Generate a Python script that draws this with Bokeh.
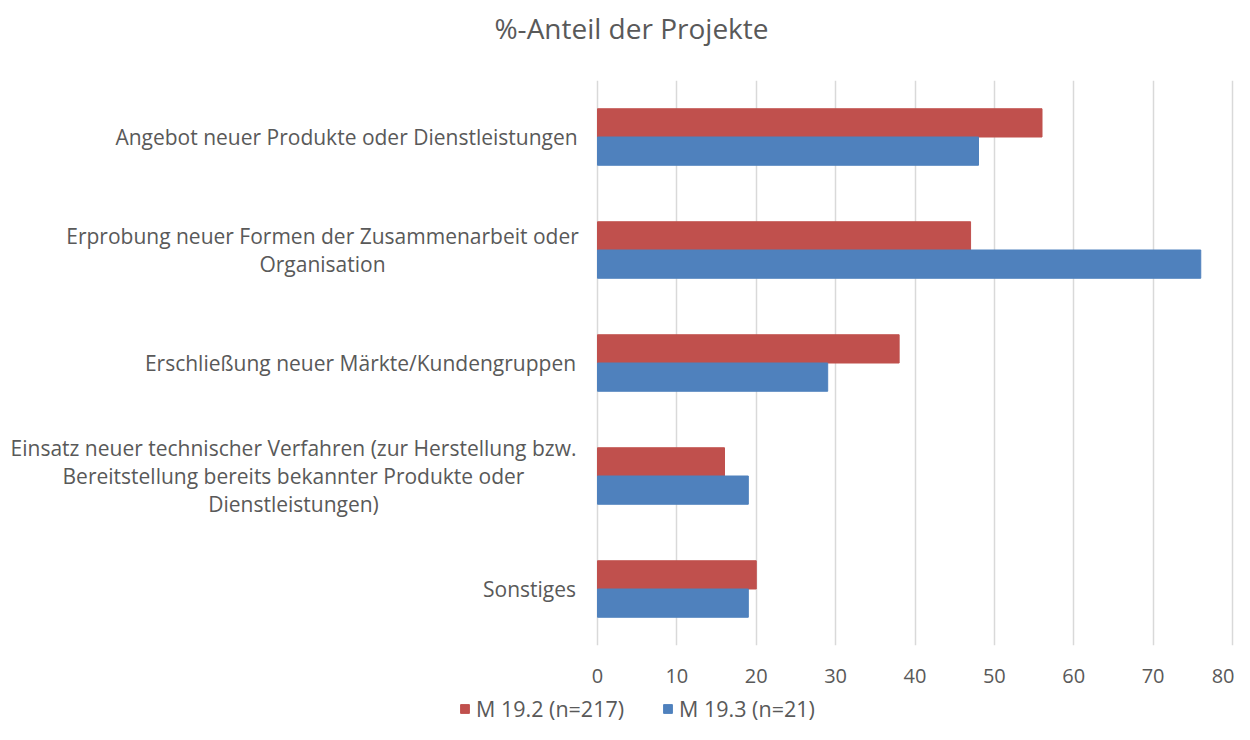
from bokeh.plotting import figure
from bokeh.layouts import column
from bokeh.models import Legend, LegendItem, FactorRange, FixedTicker, ColumnDataSource, Range1d, Label
from bokeh.core.properties import value
from bokeh.transform import dodge
from bokeh.embed import file_html
from bokeh.resources import INLINE

# ---- data ----
categories = [
    "Angebot neuer Produkte oder Dienstleistungen",
    "Erprobung neuer Formen der Zusammenarbeit oder\nOrganisation",
    "Erschließung neuer Märkte/Kundengruppen",
    "Einsatz neuer technischer Verfahren (zur Herstellung bzw.\nBereitstellung bereits bekannter Produkte oder\nDienstleistungen)",
    "Sonstiges",
]
m192 = [56, 47, 38, 16, 20]
m193 = [48, 76, 29, 19, 19]
series_names = ["M 19.2 (n=217)", "M 19.3 (n=21)"]
title_text = "%-Anteil der Projekte"
x_ticks = [0, 10, 20, 30, 40, 50, 60, 70, 80]

# ---- layout constants (pixels) ----
W = 1234
H_TITLE, H_MAIN, H_LEG = 56, 638, 30
X0_PX, X80_PX = 597, 1232          # where value 0 and value 80 sit
label_center_px = [346, 322, 360, 293, 529]   # horizontal centre of each category label block

FONT = "Open Sans"
TXT = "#595959"
RED = "#C0504D"
BLUE = "#4F81BD"

px_per_unit = (X80_PX - X0_PX) / 80.0
x_start = -X0_PX / px_per_unit
x_end = 80 + (W - X80_PX) / px_per_unit
label_x = [(c - X0_PX) / px_per_unit for c in label_center_px]

src = ColumnDataSource(dict(cat=categories, a=m192, b=m193, lx=label_x))

# ---- title strip ----
tf = figure(width=W, height=H_TITLE, x_range=(0, 1), y_range=(0, 1),
            x_axis_location=None, y_axis_location=None,
            output_backend="svg", toolbar_location=None, min_border=0)
tf.outline_line_color = None
tf.grid.grid_line_color = None
tf.add_layout(Label(x=631, y=H_TITLE - 27, x_units="screen", y_units="screen", text=title_text,
                    text_align="center", text_baseline="middle", text_font=FONT,
                    text_font_size="28px", text_color=TXT))

# ---- main chart ----
p = figure(
    width=W, height=H_MAIN,
    y_range=FactorRange(*categories[::-1], range_padding=0),
    x_range=Range1d(x_start, x_end),
    y_axis_location=None,
    output_backend="svg", toolbar_location=None,
    min_border_left=0, min_border_right=0,
    min_border_top=80 - H_TITLE, min_border_bottom=H_MAIN - (645 - H_TITLE),
)
p.outline_line_color = None

r1 = p.hbar(y=dodge("cat", 0.125, range=p.y_range), right="a", left=0, height=0.25,
            source=src, fill_color=RED, line_color=RED)
r2 = p.hbar(y=dodge("cat", -0.125, range=p.y_range), right="b", left=0, height=0.25,
            source=src, fill_color=BLUE, line_color=BLUE)

# category labels
p.text(x="lx", y="cat", text="cat", source=src, text_align="center", text_baseline="middle",
       text_font=value(FONT), text_font_size="21px", text_color=TXT, text_line_height=1.0)

# x axis
p.xaxis.ticker = FixedTicker(ticks=x_ticks)
p.xaxis.axis_line_color = None
p.xaxis.major_tick_line_color = None
p.xaxis.minor_tick_line_color = None
p.xaxis.major_label_standoff = 17
p.xaxis.major_label_text_font = FONT
p.xaxis.major_label_text_font_size = "20px"
p.xaxis.major_label_text_color = TXT

p.ygrid.grid_line_color = None
p.xgrid.grid_line_color = "#d9d9d9"
p.xgrid.grid_line_width = 1.5
p.xgrid.ticker = FixedTicker(ticks=x_ticks)

# ---- legend strip ----
lf = figure(width=W, height=H_LEG, x_range=(0, 1), y_range=(0, 1),
            x_axis_location=None, y_axis_location=None,
            output_backend="svg", toolbar_location=None, min_border=0)
lf.outline_line_color = None
lf.grid.grid_line_color = None
# legend swatches take their colours from these (off-range, so not drawn in the strip)
lr1 = lf.hbar(y=[5], right=[5], left=[4], height=0.5, fill_color=RED, line_color=RED)
lr2 = lf.hbar(y=[5], right=[5], left=[4], height=0.5, fill_color=BLUE, line_color=BLUE)
legend = Legend(items=[LegendItem(label=series_names[0], renderers=[lr1]),
                       LegendItem(label=series_names[1], renderers=[lr2])],
                location=(459, 1), orientation="horizontal",
                label_text_font=FONT, label_text_font_size="21.5px", label_text_color=TXT,
                glyph_width=11, glyph_height=11, label_standoff=6, spacing=38,
                padding=0, margin=0, border_line_color=None, background_fill_alpha=0)
lf.add_layout(legend, "center")

open("out.html", "w").write(file_html(column(tf, p, lf, spacing=0), INLINE))
